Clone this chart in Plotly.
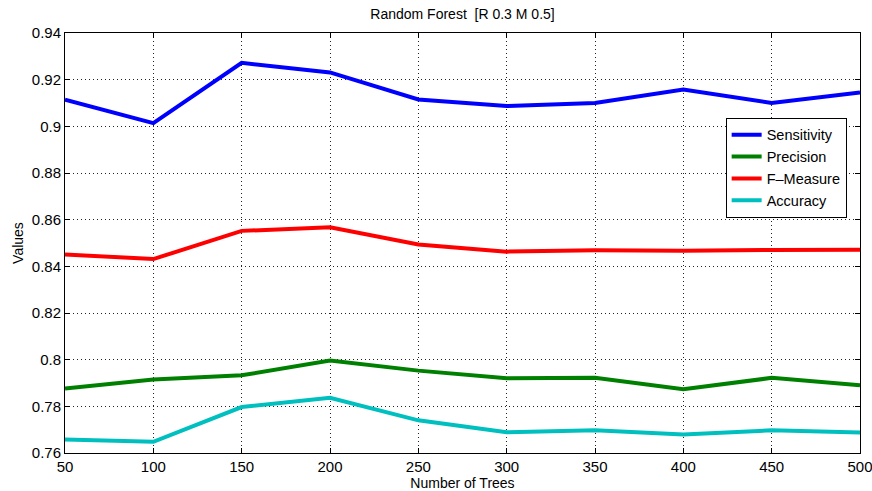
import plotly.graph_objects as go

trees = [50, 100, 150, 200, 250, 300, 350, 400, 450, 500]
sensitivity = [0.9114, 0.9014, 0.9272, 0.9231, 0.9115, 0.9087, 0.9100, 0.9158, 0.9100, 0.9145]
precision = [0.7876, 0.7915, 0.7933, 0.7996, 0.7953, 0.7920, 0.7922, 0.7873, 0.7922, 0.7890]
fmeasure = [0.8451, 0.8431, 0.8552, 0.8567, 0.8494, 0.8463, 0.8469, 0.8467, 0.8470, 0.8471]
accuracy = [0.7658, 0.7648, 0.7797, 0.7837, 0.7740, 0.7689, 0.7697, 0.7679, 0.7697, 0.7688]

series = [
    ("Sensitivity", sensitivity, "#0000FF"),
    ("Precision", precision, "#008000"),
    ("F\u2013Measure", fmeasure, "#FF0000"),
    ("Accuracy", accuracy, "#00BFBF"),
]

fig = go.Figure()
for name, vals, col in series:
    fig.add_trace(go.Scatter(x=trees, y=vals, mode="lines", name=name,
                             line=dict(color=col, width=4)))

font = "Liberation Sans, Arial, Helvetica, sans-serif"
axis_common = dict(
    showline=True, linecolor="black", linewidth=1, mirror="ticks",
    ticks="inside", ticklen=5, tickcolor="black",
    showgrid=True, gridcolor="#222222", griddash="1px,3px", gridwidth=1,
    zeroline=False, automargin=False, ticklabeloverflow="allow",
    tickfont=dict(size=15, color="black", family=font),
)
fig.update_xaxes(range=[50, 500], tickvals=trees, **axis_common,
                 title=dict(text="Number of Trees", font=dict(size=14, color="black", family=font), standoff=1))
fig.update_yaxes(range=[0.76, 0.94], dtick=0.02, tickformat="~g", **axis_common,
                 title=dict(text="Values", font=dict(size=14, color="black", family=font), standoff=4))

fig.update_layout(
    width=872, height=491,
    margin=dict(l=65, r=12, t=33, b=38, autoexpand=False),
    paper_bgcolor="white", plot_bgcolor="white",
    title=dict(text="Random Forest  [R 0.3 M 0.5]", x=0.5, xref="paper", y=0.972, yanchor="middle",
               font=dict(size=14, color="black", family=font)),
    font=dict(family=font, color="black"),
    legend=dict(x=0.831, y=0.798, xanchor="left", yanchor="top",
                bordercolor="black", borderwidth=1, bgcolor="white",
                font=dict(size=14.5, color="black", family=font), tracegroupgap=0),
    showlegend=True,
)

fig.write_html("out.html")
